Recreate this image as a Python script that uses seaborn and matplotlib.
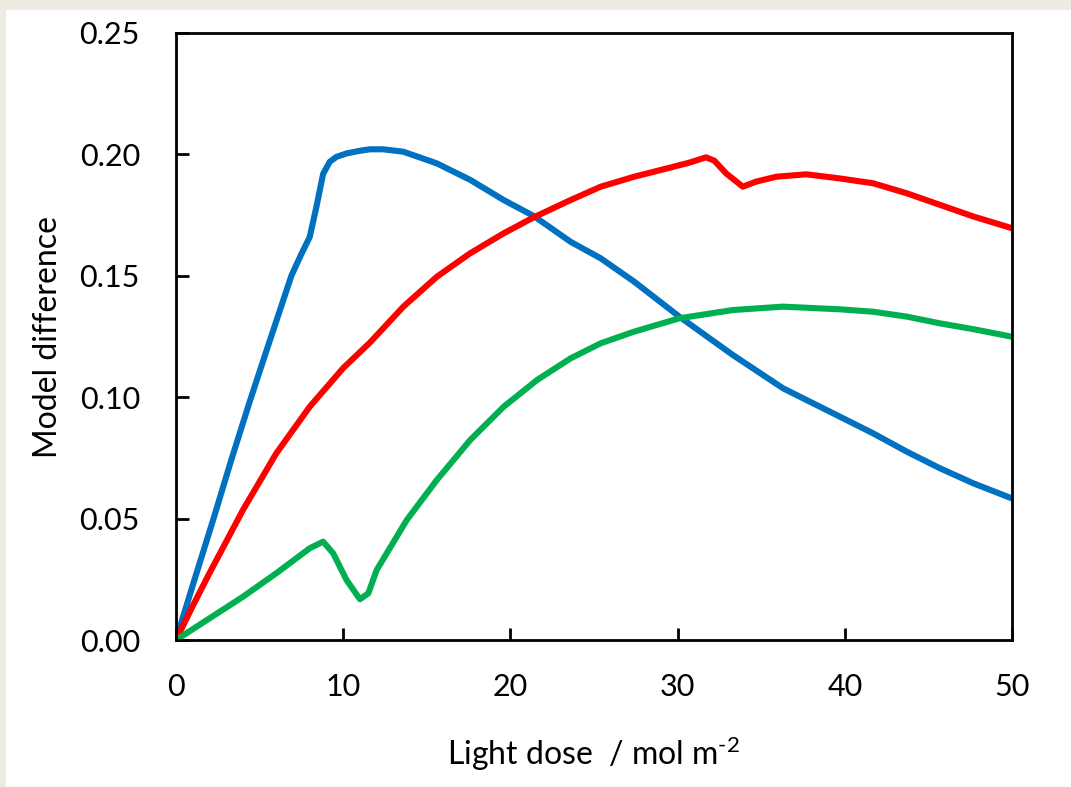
import matplotlib
matplotlib.use("Agg")
import matplotlib.pyplot as plt
from matplotlib.patches import Rectangle
import pandas as pd
import seaborn as sns

# light dose (mol m-2) and model difference
blue_x = [0, 1, 2.2, 3.3, 4.4, 5.5, 6.9, 7.5, 8.0, 8.4, 8.8, 9.2, 9.6, 10.2, 11.0, 11.6, 12.4,
          13.6, 15.6, 17.6, 19.6, 21.4, 23.6, 25.4, 27.4, 30.1, 33.3, 36.3, 39.7, 41.7, 43.7,
          45.7, 47.7, 50]
blue_y = [0, 0.0225, 0.049, 0.074, 0.098, 0.121, 0.150, 0.159, 0.166, 0.1785, 0.192, 0.197,
          0.199, 0.2004, 0.2015, 0.2021, 0.2021, 0.2011, 0.1963, 0.1895, 0.1812, 0.1746, 0.164,
          0.1572, 0.1476, 0.1332, 0.1174, 0.1037, 0.092, 0.0851, 0.0776, 0.0707, 0.0645, 0.0583]

red_x = [0, 1, 2, 4, 6, 8, 10, 11.6, 13.6, 15.6, 17.6, 19.6, 21.4, 23.6, 25.4, 27.4, 29.4,
         30.7, 31.7, 32.2, 32.9, 33.9, 34.7, 35.9, 37.7, 39.7, 41.7, 43.7, 45.7, 47.7, 50]
red_y = [0, 0.014, 0.0275, 0.0535, 0.0769, 0.0961, 0.112, 0.1225, 0.1373, 0.1496, 0.1593,
         0.1675, 0.1741, 0.1812, 0.1867, 0.1908, 0.1943, 0.1966, 0.1988, 0.1974, 0.1922, 0.1867,
         0.1888, 0.1908, 0.1918, 0.1901, 0.1881, 0.184, 0.1792, 0.1744, 0.1696]

green_x = [0, 2, 4, 6, 8, 8.8, 9.4, 10.2, 11.0, 11.5, 12.0, 13.8, 15.6, 17.6, 19.6, 21.6, 23.6,
           25.4, 27.4, 30.1, 33.3, 36.3, 39.7, 41.7, 43.7, 45.7, 47.7, 50]
green_y = [0, 0.0089, 0.0178, 0.0275, 0.0378, 0.0405, 0.0357, 0.0247, 0.0168, 0.0192, 0.0288,
           0.0494, 0.0659, 0.0824, 0.0961, 0.1071, 0.116, 0.1222, 0.127, 0.1325, 0.1359, 0.1373,
           0.1362, 0.1352, 0.1332, 0.1304, 0.128, 0.1249]

x_ticks = [0, 10, 20, 30, 40, 50]
y_ticks = [0.00, 0.05, 0.10, 0.15, 0.20, 0.25]

sns.set_style("ticks")
plt.rcParams["font.family"] = ["Lato", "DejaVu Sans"]
plt.rcParams["text.color"] = "black"
plt.rcParams["axes.labelcolor"] = "black"
plt.rcParams["mathtext.fontset"] = "custom"
plt.rcParams["mathtext.rm"] = "Lato"
plt.rcParams["mathtext.it"] = "Lato:italic"

W, H = 1071, 787
fig = plt.figure(figsize=(W / 100, H / 100), dpi=100, facecolor="#EEEBE3")
fig.patches.append(Rectangle((6 / W, 0), 1, 777 / H, transform=fig.transFigure,
                             facecolor="white", edgecolor="none", zorder=-10))
ax = fig.add_axes([176 / W, 147 / H, 836 / W, 607 / H])
ax.set_facecolor("white")

series = [(blue_x, blue_y, "#0070C0"), (red_x, red_y, "#FF0000"), (green_x, green_y, "#00B050")]
for xs, ys, color in series:
    df = pd.DataFrame({"dose": xs, "diff": ys})
    sns.lineplot(data=df, x="dose", y="diff", color=color, linewidth=4.4,
                 estimator=None, sort=False, ax=ax)
for line in ax.lines:
    line.set_solid_joinstyle("round")

ax.set_xlim(0, 50)
ax.set_ylim(0, 0.25)
ax.set_xticks(x_ticks)
ax.set_xticklabels([str(t) for t in x_ticks])
ax.set_yticks(y_ticks)
ax.set_yticklabels([f"{t:.2f}" for t in y_ticks])
ax.tick_params(direction="in", length=9, width=2, labelsize=22, colors="black")
ax.tick_params(axis="y", pad=26)
ax.tick_params(axis="x", pad=24)
for side in ["left", "right", "top", "bottom"]:
    ax.spines[side].set_visible(True)
    ax.spines[side].set_linewidth(2)
    ax.spines[side].set_color("black")

ax.set_xlabel(r"Light dose  / mol m$^{\text{-2}}$", fontsize=23, labelpad=24)
ax.set_ylabel("Model difference", fontsize=23, labelpad=12)

plt.savefig("out.png", dpi=100, facecolor=fig.get_facecolor())
